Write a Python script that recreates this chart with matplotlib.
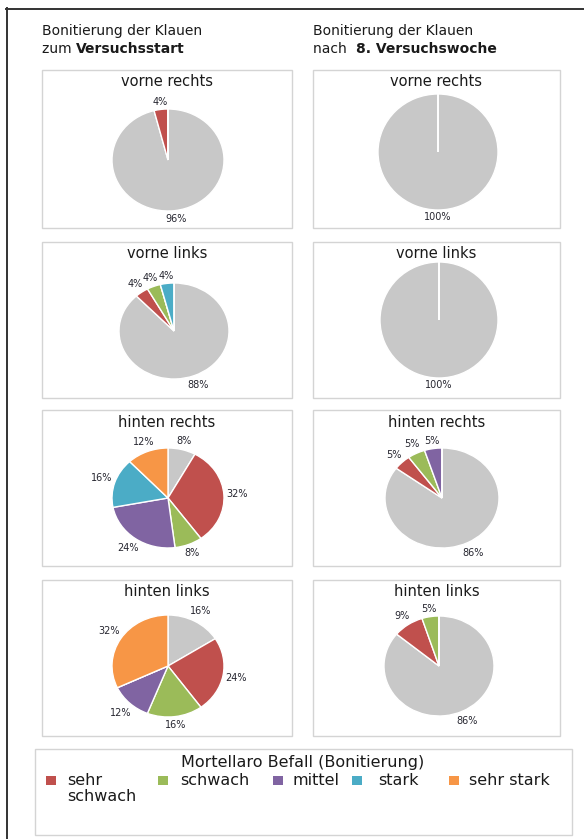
import numpy as np
import matplotlib.pyplot as plt
from matplotlib.patches import Rectangle
from matplotlib.lines import Line2D

W, H = 584, 839

# Befall-Klassen (Grau = ohne Befall, nicht in der Legende)
categories = ['ohne', 'sehr\nschwach', 'schwach', 'mittel', 'stark', 'sehr stark']
colors = ['#C8C8C8', '#C0504D', '#9BBB59', '#8064A2', '#4BACC6', '#F79646']

panel_titles = ['vorne rechts', 'vorne links', 'hinten rechts', 'hinten links']

# Anteile in % zum Versuchsstart
start_vr = [96, 4, 0, 0, 0, 0]
start_vl = [88, 4, 4, 0, 4, 0]
start_hr = [8, 32, 8, 24, 16, 12]
start_hl = [16, 24, 16, 12, 0, 32]

# Anteile in % nach 8. Versuchswoche
woche8_vr = [100, 0, 0, 0, 0, 0]
woche8_vl = [100, 0, 0, 0, 0, 0]
woche8_hr = [86, 5, 5, 5, 0, 0]
woche8_hl = [86, 9, 5, 0, 0, 0]

start_data = [start_vr, start_vl, start_hr, start_hl]
woche8_data = [woche8_vr, woche8_vl, woche8_hr, woche8_hl]

TXT = '#1a1a1a'

fig = plt.figure(figsize=(W / 100, H / 100), dpi=100)
fig.patch.set_facecolor('white')


def fx(x):
    return x / W


def fy(y):
    return 1 - y / H


def box(x0, y0, x1, y1, color='#D4D4D4'):
    fig.add_artist(Rectangle((fx(x0), fy(y1)), fx(x1) - fx(x0), fy(y0) - fy(y1),
                             transform=fig.transFigure, fill=False,
                             edgecolor=color, linewidth=1.0))


# outer frame (left and top only)
fig.add_artist(Line2D([fx(6.5), fx(6.5)], [fy(8), fy(H)], transform=fig.transFigure,
                      color='#333333', linewidth=1.4))
fig.add_artist(Line2D([fx(6), fx(W)], [fy(8.5), fy(8.5)], transform=fig.transFigure,
                      color='#333333', linewidth=1.4))

renderer = fig.canvas.get_renderer()


def header(x, y, normal, bold, size=10):
    fig.text(fx(x), fy(y), 'Bonitierung der Klauen', fontsize=size, color=TXT,
             ha='left', va='center')
    t = fig.text(fx(x), fy(y + 18), normal, fontsize=size, color=TXT,
                 ha='left', va='center')
    w = t.get_window_extent(renderer).width
    fig.text(fx(x + w), fy(y + 18), bold, fontsize=size, color=TXT,
             fontweight='bold', ha='left', va='center')


header(42, 31, 'zum ', 'Versuchsstart')
header(313, 31, 'nach  ', '8. Versuchswoche')

rows = [(70, 228), (242, 398), (410, 566), (580, 736)]
cols = [(42, 292), (313, 560)]

# pie centres and radii (px) per column/row
pie_geo = [
    [(168, 160, 56, 51), (174, 331, 55, 48), (168, 498, 56, 50), (168, 666, 56, 51)],
    [(438, 152, 60, 58), (439, 320, 59, 58), (442, 498, 57, 50), (439, 666, 55, 50)],
]


def draw_pie(vals, cx, cy, rx, ry):
    ax = fig.add_axes([fx(cx - rx), fy(cy + ry), 2 * rx / W, 2 * ry / H])
    labels = [f'{v}%' if v > 0 else '' for v in vals]
    wedges, texts = ax.pie(vals, colors=colors, startangle=90, counterclock=False,
                           labels=labels, labeldistance=1.1,
                           wedgeprops=dict(edgecolor='white', linewidth=1.0),
                           textprops=dict(fontsize=7, color='#262630'))
    ax.set_aspect('auto')
    ax.set_xlim(-1, 1)
    ax.set_ylim(-1, 1)
    ax.axis('off')
    # place labels just outside the rim, centred like Excel's outside end
    for t in texts:
        if not t.get_text():
            continue
        x, y = t.get_position()
        th = np.arctan2(y, x)
        bb = t.get_window_extent(renderer)
        hw, hh = bb.width / 2, bb.height / 2
        d = 2 + hw * abs(np.cos(th)) + hh * abs(np.sin(th))
        px = np.cos(th) * (rx + d)
        py = np.sin(th) * (ry + d)
        t.set_position((px / rx, py / ry))
        t.set_ha('center')
        t.set_va('center')
        t.set_clip_on(False)


for c, data in enumerate([start_data, woche8_data]):
    x0, x1 = cols[c]
    for r, vals in enumerate(data):
        y0, y1 = rows[r]
        box(x0, y0, x1, y1)
        fig.text(fx((x0 + x1) / 2), fy(y0 + 12), panel_titles[r], fontsize=10.5,
                 color=TXT, ha='center', va='center')
        cx, cy, rx, ry = pie_geo[c][r]
        draw_pie(vals, cx, cy, rx, ry)

# legend
box(35, 749, 572, 835)
fig.text(fx(303), fy(762), 'Mortellaro Befall (Bonitierung)', fontsize=11.5,
         color=TXT, ha='center', va='center')
sq_x = [46, 158, 273, 352, 449]
tx_x = [67, 180, 292, 378, 469]
for i in range(1, len(categories)):
    fig.add_artist(Rectangle((fx(sq_x[i - 1]), fy(785)), 9.5 / W, 9.5 / H,
                             transform=fig.transFigure, facecolor=colors[i],
                             edgecolor='none'))
    fig.text(fx(tx_x[i - 1]), fy(773), categories[i], fontsize=11.5, color=TXT,
             ha='left', va='top', linespacing=1.05)

plt.savefig('out.png', dpi=100)
